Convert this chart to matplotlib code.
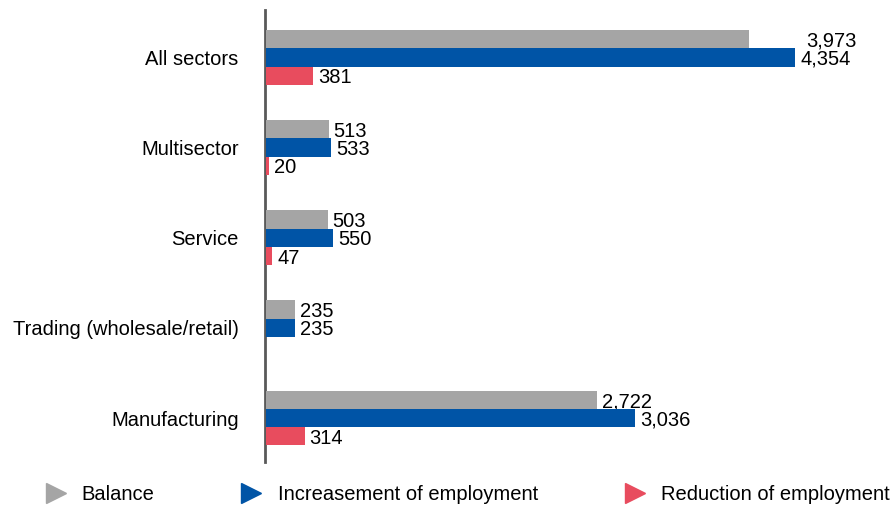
import matplotlib.pyplot as plt
from matplotlib.lines import Line2D

plt.rcParams['font.family'] = ['Liberation Sans', 'DejaVu Sans']

# Data
categories = ['All sectors', 'Multisector', 'Service', 'Trading (wholesale/retail)', 'Manufacturing']
balance = [3973, 513, 503, 235, 2722]
increase = [4354, 533, 550, 235, 3036]
reduction = [381, 20, 47, 0, 314]
series_names = ['Balance', 'Increasement of employment', 'Reduction of employment']
colors = ['#A5A5A5', '#0054A6', '#E84C5E']

fig = plt.figure(figsize=(8.92, 5.07), dpi=100)
ax = fig.add_axes([265 / 892, 1 - 462 / 507, 608.6 / 892, 452 / 507])

h = 0.203
y = list(range(len(categories)))
for k, (vals, col) in enumerate(zip([balance, increase, reduction], colors)):
    pos = [i + (k - 1) * h for i in y]
    ax.barh(pos, vals, height=h, color=col, zorder=3)
    for p, v in zip(pos, vals):
        if v == 0:
            continue
        dx = 5
        # the 3,973 label sits right, aligned with 4,354
        if k == 0 and v == 3973:
            dx = 57
        ax.annotate(f'{v:,}', (v, p), xytext=(dx, -2), textcoords='offset pixels',
                    va='center', ha='left', fontsize=14.5)

ax.set_xlim(-12, 5000)
ax.set_ylim(4.488, -0.527)
ax.set_yticks(y)
ax.set_yticklabels(categories, fontsize=14.5)
ax.tick_params(axis='y', length=0, pad=19)
ax.set_xticks([])
for s in ['top', 'right', 'bottom']:
    ax.spines[s].set_visible(False)
ax.spines['left'].set_color('#595959')
ax.spines['left'].set_linewidth(2)
ax.spines['left'].set_zorder(2)

handles = [Line2D([], [], marker='>', linestyle='none', color=c, markersize=15) for c in colors]
fig.legend(handles, series_names, loc='center', bbox_to_anchor=(0.523, 1 - 495 / 507), ncol=3,
           frameon=False, fontsize=14.5, handletextpad=0.7, columnspacing=4.2, handlelength=1.2)

fig.savefig('out.png', dpi=100)
